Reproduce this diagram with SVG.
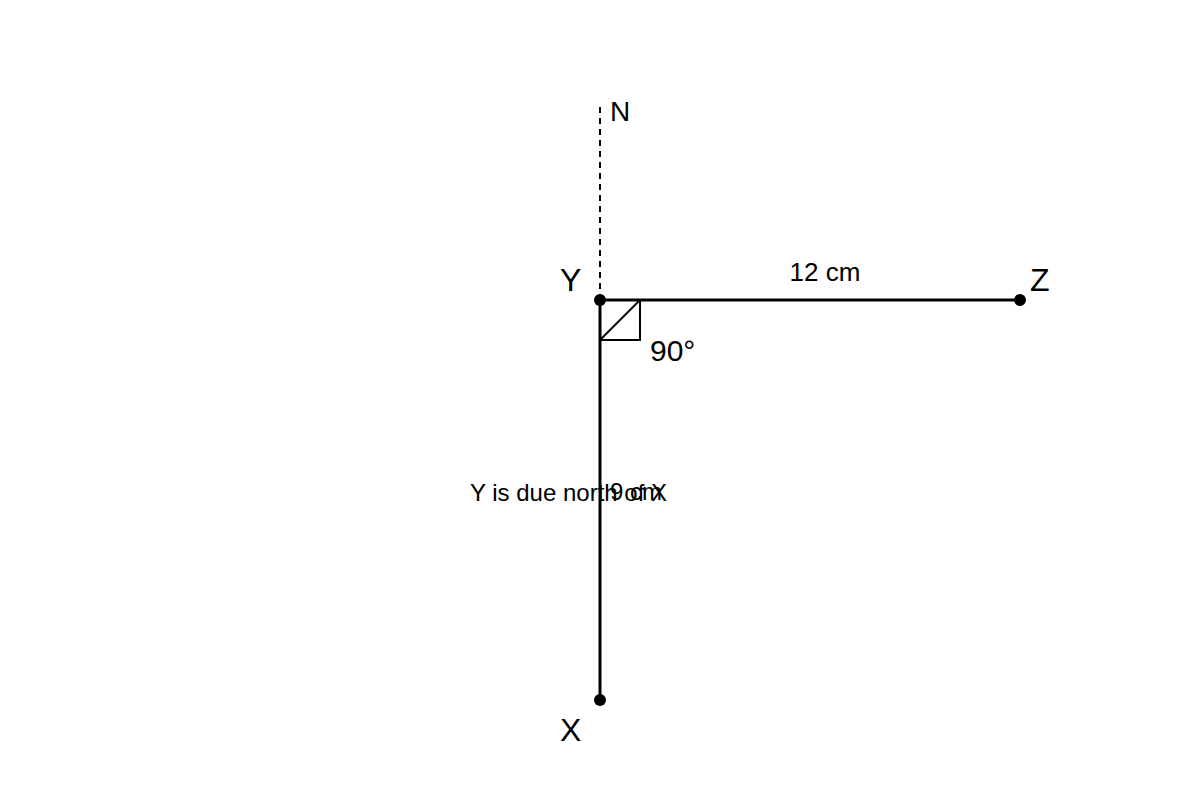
<svg xmlns="http://www.w3.org/2000/svg" width="1200" height="800" viewBox="0 0 1200 800">
<style>
text{font-family:"Liberation Sans",Arial,sans-serif;fill:#000}
.seg{stroke:#000;stroke-width:3;fill:none}
.pt{fill:#000}
.lbl{font-size:32px}
</style>
<rect width="1200" height="800" fill="#fff"/>
<g id="connectors">
<line x1="600" y1="300" x2="600" y2="104" stroke="#000" stroke-width="2" stroke-dasharray="6,5"/>
<line class="seg" x1="600" y1="300" x2="1020" y2="300"/>
<line class="seg" x1="600" y1="300" x2="600" y2="700"/>
<text x="825" y="281" font-size="26" text-anchor="middle">12 cm</text>
<text x="610" y="500" font-size="24">9 cm</text>
</g>
<g id="right-angle">
<path d="M600 340 H640 V300 M600 340 L640 300" stroke="#000" stroke-width="2" fill="none"/>
<text x="650" y="361" font-size="30">90°</text>
</g>
<g id="node-Y"><circle class="pt" cx="600" cy="300" r="6"/><text class="lbl" x="560" y="291">Y</text></g>
<g id="node-Z"><circle class="pt" cx="1020" cy="300" r="6"/><text class="lbl" x="1030" y="291">Z</text></g>
<g id="node-X"><circle class="pt" cx="600" cy="700" r="6"/><text class="lbl" x="560" y="741">X</text></g>
<g id="north"><text x="610" y="121" font-size="28">N</text></g>
<g id="note"><text x="470" y="501" font-size="24">Y is due north of X</text></g>
</svg>
